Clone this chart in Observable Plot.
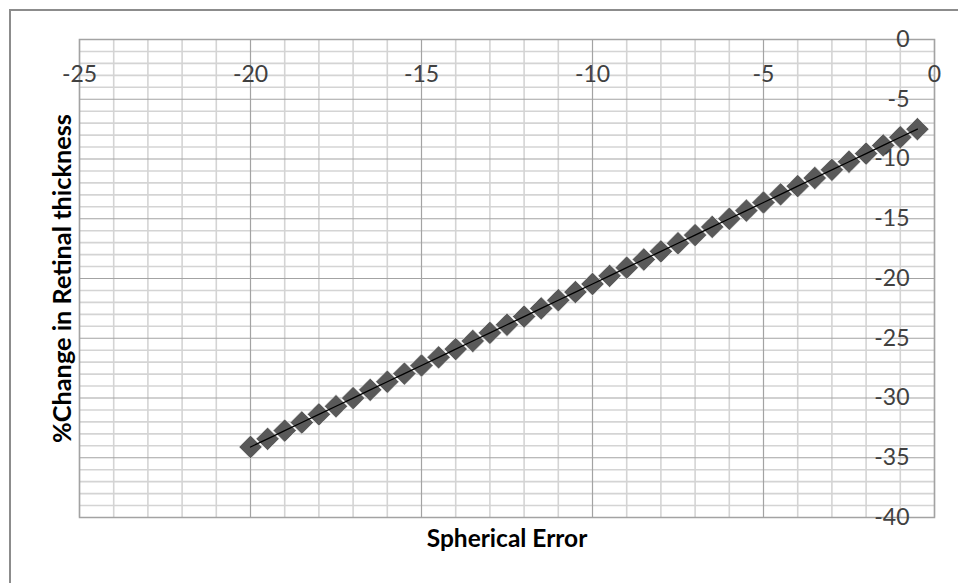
<!DOCTYPE html>
<html>
<head>
<meta charset="utf-8">
<script src="https://cdn.jsdelivr.net/npm/d3@7"></script>
<script src="https://cdn.jsdelivr.net/npm/@observablehq/plot@0.6"></script>
<style>
  html, body { margin: 0; padding: 0; background: #fff; }
  #wrap { position: relative; width: 958px; height: 583px; overflow: hidden; }
  #border { position: absolute; left: 9px; top: 9px; width: 970px; height: 600px; border: 2px solid #8c8c8c; box-sizing: border-box; pointer-events: none; }
  svg { display: block; }
</style>
</head>
<body>
<div id="wrap"><div id="border"></div></div>
<script>
// Data
const sphericalError = [-20, -19.5, -19, -18.5, -18, -17.5, -17, -16.5, -16, -15.5, -15, -14.5, -14, -13.5, -13, -12.5, -12, -11.5, -11, -10.5, -10, -9.5, -9, -8.5, -8, -7.5, -7, -6.5, -6, -5.5, -5, -4.5, -4, -3.5, -3, -2.5, -2, -1.5, -1, -0.5];
const retinalChange = [-34.1, -33.42, -32.73, -32.05, -31.37, -30.69, -30.01, -29.32, -28.64, -27.96, -27.28, -26.6, -25.91, -25.23, -24.55, -23.87, -23.19, -22.5, -21.82, -21.14, -20.46, -19.78, -19.09, -18.41, -17.73, -17.05, -16.37, -15.68, -15.0, -14.32, -13.64, -12.96, -12.27, -11.59, -10.91, -10.23, -9.55, -8.86, -8.18, -7.5];
const xTickLabels = [-25, -20, -15, -10, -5, 0];
const yTickLabels = [0, -5, -10, -15, -20, -25, -30, -35, -40];
const xTitle = "Spherical Error";
const yTitle = "%Change in Retinal thickness";

const data = sphericalError.map((x, i) => ({x, y: retinalChange[i]}));
const xMinor = d3.range(-25, 1, 1).filter(v => v % 5 !== 0);
const yMinor = d3.range(-40, 1, 1).filter(v => v % 5 !== 0);

const font = "Lato, 'Liberation Sans', Arial, sans-serif";

const chart = Plot.plot({
  width: 958,
  height: 583,
  marginLeft: 79,
  marginRight: 24,
  marginTop: 39,
  marginBottom: 66,
  style: {fontFamily: font, background: "transparent"},
  x: {domain: [-25, 0], axis: null},
  y: {domain: [-40, 0], axis: null},
  marks: [
    Plot.ruleX(xMinor, {stroke: "#d4d4d4", strokeWidth: 1.6}),
    Plot.ruleY(yMinor, {stroke: "#d4d4d4", strokeWidth: 1.6}),
    Plot.ruleX(xTickLabels, {stroke: "#a3a3a3", strokeWidth: 1.2}),
    Plot.ruleY(yTickLabels, {stroke: "#a3a3a3", strokeWidth: 1.2}),
    Plot.frame({stroke: "#a3a3a3", strokeWidth: 1.5}),
    Plot.dot(data, {x: "x", y: "y", symbol: "diamond2", r: 10.5, fill: "#595959", stroke: "#ffffff", strokeWidth: 0.6}),
    Plot.line(data, {x: "x", y: "y", stroke: "#000", strokeWidth: 1.3}),
    Plot.text(xTickLabels, {x: d => d, y: () => 0, text: d => String(d), dy: 35, fontSize: 23, fill: "#404040", textAnchor: "middle", lineAnchor: "middle"}),
    Plot.text(yTickLabels, {x: () => 0, y: d => d, text: d => String(d), dx: -25, fontSize: 23, fill: "#404040", textAnchor: "end", lineAnchor: "middle"}),
    Plot.text([xTitle], {frameAnchor: "bottom", text: d => d, dy: 22, fontSize: 24.5, fontWeight: "bold", fill: "#000", textAnchor: "middle", lineAnchor: "middle"}),
    Plot.text([yTitle], {frameAnchor: "left", text: d => d, dx: -17, rotate: -90, fontSize: 25.3, fontWeight: "bold", fill: "#000", textAnchor: "middle", lineAnchor: "middle"})
  ]
});
document.getElementById("wrap").prepend(chart);
</script>
</body>
</html>
